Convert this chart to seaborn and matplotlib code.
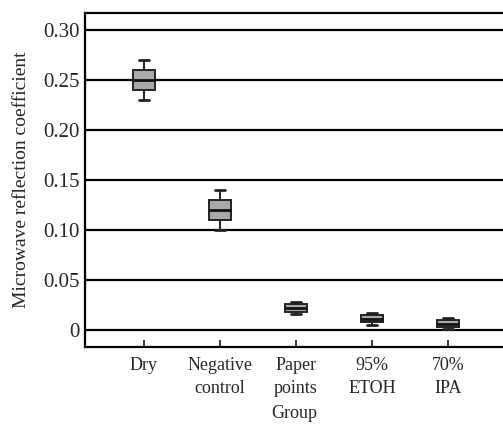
import numpy as np
import pandas as pd
import matplotlib
matplotlib.use("Agg")
import matplotlib.pyplot as plt
import seaborn as sns

groups = ["Dry", "Negative\ncontrol", "Paper\npoints", "95%\nETOH", "70%\nIPA"]
# five-number summaries: min, q1, median, q3, max
dry = [0.230, 0.240, 0.250, 0.260, 0.270]
negative = [0.100, 0.110, 0.120, 0.130, 0.140]
paper = [0.016, 0.018, 0.022, 0.026, 0.028]
etoh = [0.005, 0.008, 0.0115, 0.015, 0.017]
ipa = [0.001, 0.003, 0.0065, 0.010, 0.012]
yticks = [0, 0.05, 0.10, 0.15, 0.20, 0.25, 0.30]
yticklabels = ["0", "0.05", "0.10", "0.15", "0.20", "0.25", "0.30"]

rows = []
for g, vals in zip(groups, [dry, negative, paper, etoh, ipa]):
    for v in vals:
        rows.append({"Group": g, "value": v})
df = pd.DataFrame(rows)

sns.set_style("white")
plt.rcParams["font.family"] = ["Liberation Serif", "DejaVu Serif"]

fig = plt.figure(figsize=(5.03, 4.25), dpi=100)
ax = fig.add_axes([0.169, 0.1835, 0.831, 0.7855])

for y in yticks:
    ax.axhline(y, color="black", lw=1.6, zorder=0)

sns.boxplot(data=df, x="Group", y="value", order=groups, ax=ax,
            width=0.28, whis=np.inf, color="#a9a9a9", linecolor="#222222",
            linewidth=1.4, saturation=1,
            medianprops=dict(color="#111111", linewidth=2.0),
            capprops=dict(linewidth=2.0))

ax.set_xlim(-0.776, 4.724)
ax.set_ylim(-0.0165, 0.317)
ax.set_yticks(yticks)
ax.set_yticklabels(yticklabels, fontsize=15)
ax.tick_params(axis="y", length=0, pad=4)
ax.tick_params(axis="x", direction="in", length=5, width=1.3, labelsize=13, pad=7, bottom=True)
for lab in ax.get_xticklabels():
    lab.set_linespacing(1.45)
ax.set_xlabel("Group", fontsize=13, labelpad=6)
ax.set_ylabel("Microwave reflection coefficient", fontsize=14, labelpad=9)
for s in ["left", "top", "bottom"]:
    ax.spines[s].set_visible(True)
    ax.spines[s].set_color("black")
    ax.spines[s].set_linewidth(1.6)
ax.spines["right"].set_visible(False)

fig.savefig("out.png", dpi=100)
